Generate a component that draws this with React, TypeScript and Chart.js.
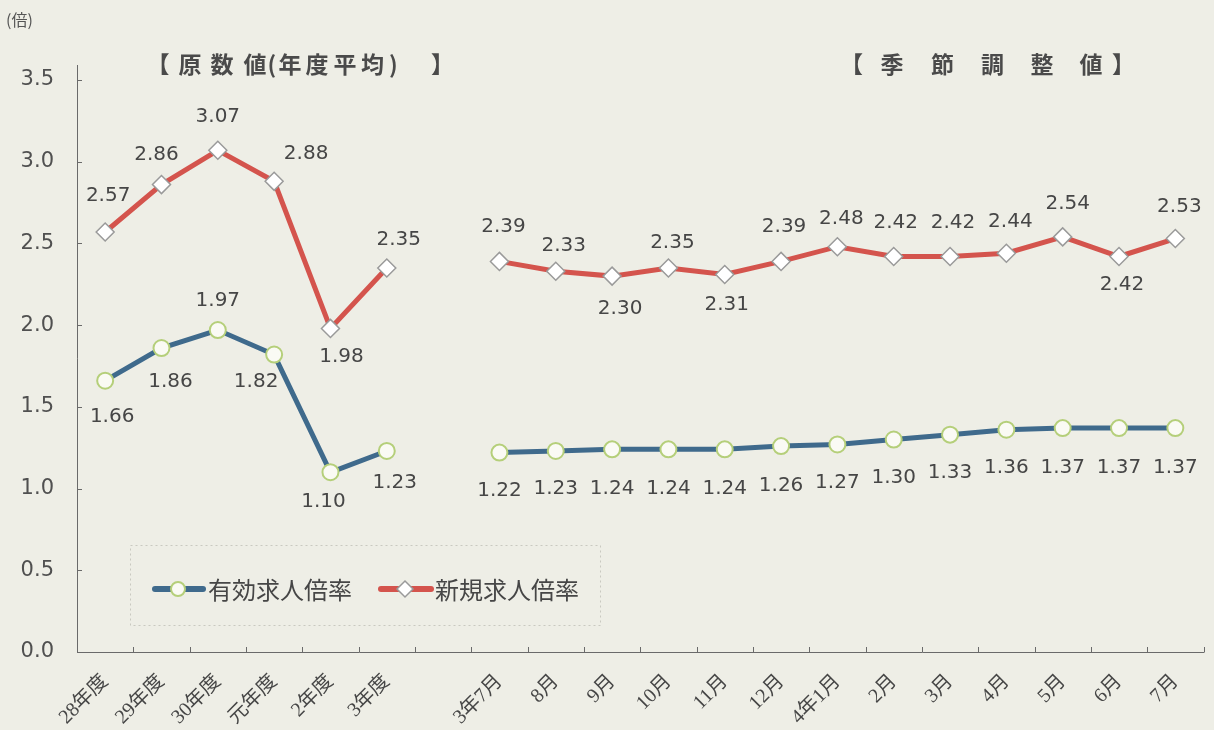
import React, { useEffect, useRef } from 'react';
import { Chart, registerables } from 'chart.js';

Chart.register(...registerables);

// ---- data ----
const categories = [
  '28年度', '29年度', '30年度', '元年度', '2年度', '3年度', '',
  '3年7月', '8月', '9月', '10月', '11月', '12月', '4年1月', '2月', '3月', '4月', '5月', '6月', '7月',
];
const yukoRatio: (number | null)[] = [
  1.66, 1.86, 1.97, 1.82, 1.10, 1.23, null,
  1.22, 1.23, 1.24, 1.24, 1.24, 1.26, 1.27, 1.30, 1.33, 1.36, 1.37, 1.37, 1.37,
];
const shinkiRatio: (number | null)[] = [
  2.57, 2.86, 3.07, 2.88, 1.98, 2.35, null,
  2.39, 2.33, 2.30, 2.35, 2.31, 2.39, 2.48, 2.42, 2.42, 2.44, 2.54, 2.42, 2.53,
];
const yTickValues = [0, 0.5, 1.0, 1.5, 2.0, 2.5, 3.0, 3.5];
const seriesNames = ['有効求人倍率', '新規求人倍率'];
const unitLabel = '(倍)';
const title1Chars = ['【', '原', '数', '値', '(', '年', '度', '平', '均', ')', '】'];
const title2Chars = ['【', '季', '節', '調', '整', '値', '】'];

// ---- styling (label offsets relative to the point, in px) ----
const yukoLabelOffsets: ([number, number] | null)[] = [
  [7, 36], [9, 34], [0, -29], [-18, 27], [-7, 30], [8, 32], null,
  [0, 38], [0, 38], [0, 39], [0, 39], [0, 39], [0, 40], [0, 38], [0, 38], [0, 38], [0, 38], [0, 40], [0, 40], [0, 40],
];
const shinkiLabelOffsets: ([number, number] | null)[] = [
  [3, -36], [-5, -30], [0, -33], [32, -28], [11, 28], [12, -28], null,
  [4, -35], [8, -25], [8, 33], [4, -25], [2, 30], [3, -35], [4, -28], [2, -34], [3, -34], [4, -31], [5, -33], [3, 28], [4, -32],
];
const title1Centers = [165.5, 190, 222, 255, 272, 290, 317, 345, 372, 393, 435];
const title2Centers = [859, 892, 942, 992, 1042, 1091, 1116];

const BG = '#eeeee6';
const TEXT = '#464646';
const BLUE = '#3f6a8c';
const RED = '#d4544d';
const GREEN = '#b5cf7a';
const NUM_FONT = '"DejaVu Sans", "Liberation Sans", sans-serif';
const JP_FONT = '"Noto Sans CJK JP", "Noto Sans", sans-serif';

function drawCentered(ctx: CanvasRenderingContext2D, ch: string, cx: number, cy: number) {
  const m = ctx.measureText(ch);
  const x = cx - (m.actualBoundingBoxRight - m.actualBoundingBoxLeft) / 2;
  ctx.fillText(ch, x, cy);
}

function drawDiamond(ctx: CanvasRenderingContext2D, x: number, y: number, r: number) {
  ctx.beginPath();
  ctx.moveTo(x, y - r);
  ctx.lineTo(x + r, y);
  ctx.lineTo(x, y + r);
  ctx.lineTo(x - r, y);
  ctx.closePath();
  ctx.fillStyle = '#ffffff';
  ctx.fill();
  ctx.lineWidth = 1.5;
  ctx.strokeStyle = '#9a9a9a';
  ctx.stroke();
}

const decorPlugin = {
  id: 'decor',
  beforeDraw(chart: any) {
    const ctx: CanvasRenderingContext2D = chart.ctx;
    ctx.save();
    ctx.fillStyle = BG;
    ctx.fillRect(0, 0, chart.width, chart.height);
    ctx.restore();
  },
  beforeDatasetsDraw(chart: any) {
    const ctx: CanvasRenderingContext2D = chart.ctx;
    const xs = chart.scales.x;
    const ys = chart.scales.y;
    const area = chart.chartArea;
    ctx.save();
    // legend box (dotted)
    ctx.strokeStyle = '#c9c9c0';
    ctx.lineWidth = 1;
    ctx.setLineDash([2, 3]);
    ctx.strokeRect(130.5, 545.5, 470, 80);
    ctx.setLineDash([]);

    // axes
    ctx.strokeStyle = '#6a6a6a';
    ctx.lineWidth = 1;
    ctx.beginPath();
    ctx.moveTo(area.left + 0.5, 65);
    ctx.lineTo(area.left + 0.5, area.bottom + 0.5);
    ctx.lineTo(area.right + 1, area.bottom + 0.5);
    ctx.stroke();
    // y ticks (inside)
    ctx.beginPath();
    yTickValues.forEach((v) => {
      const y = Math.round(ys.getPixelForValue(v)) + 0.5;
      ctx.moveTo(area.left, y);
      ctx.lineTo(area.left + 5, y);
    });
    // x ticks at category boundaries (inside)
    const n = categories.length;
    for (let i = 0; i <= n; i++) {
      let x: number;
      if (i === 0) x = area.left;
      else if (i === n) x = area.right;
      else x = (xs.getPixelForValue(i - 1) + xs.getPixelForValue(i)) / 2;
      x = Math.round(x) + 0.5;
      ctx.moveTo(x, area.bottom);
      ctx.lineTo(x, area.bottom - 5);
    }
    ctx.stroke();
    ctx.restore();
  },
  afterDatasetsDraw(chart: any) {
    const ctx: CanvasRenderingContext2D = chart.ctx;
    ctx.save();
    ctx.fillStyle = TEXT;
    ctx.textAlign = 'center';
    ctx.textBaseline = 'middle';
    ctx.font = `20px ${NUM_FONT}`;
    const sets: [number, (number | null)[], ([number, number] | null)[]][] = [
      [0, yukoRatio, yukoLabelOffsets],
      [1, shinkiRatio, shinkiLabelOffsets],
    ];
    sets.forEach(([di, vals, offs]) => {
      const meta = chart.getDatasetMeta(di);
      meta.data.forEach((pt: any, i: number) => {
        const v = vals[i];
        const o = offs[i];
        if (v == null || !o) return;
        ctx.fillText(v.toFixed(2), pt.x + o[0], pt.y + o[1]);
      });
    });

    // unit label
    ctx.font = `16px ${JP_FONT}`;
    ctx.textAlign = 'left';
    ctx.fillStyle = '#555';
    ctx.fillText(unitLabel, 6, 20);

    // section titles
    ctx.font = `bold 23px ${JP_FONT}`;
    ctx.fillStyle = '#4a4a4a';
    ctx.textAlign = 'left';
    title1Chars.forEach((c, i) => drawCentered(ctx, c, title1Centers[i], 64));
    title2Chars.forEach((c, i) => drawCentered(ctx, c, title2Centers[i], 64));

    // legend
    const ly = 589;
    ctx.lineCap = 'round';
    ctx.lineWidth = 6;
    ctx.strokeStyle = BLUE;
    ctx.beginPath();
    ctx.moveTo(155, ly);
    ctx.lineTo(203, ly);
    ctx.stroke();
    ctx.beginPath();
    ctx.arc(178, ly, 7, 0, Math.PI * 2);
    ctx.fillStyle = '#fafaf4';
    ctx.fill();
    ctx.lineWidth = 2;
    ctx.strokeStyle = GREEN;
    ctx.stroke();

    ctx.lineWidth = 6;
    ctx.strokeStyle = RED;
    ctx.beginPath();
    ctx.moveTo(381, ly);
    ctx.lineTo(431, ly);
    ctx.stroke();
    drawDiamond(ctx, 405, ly, 8);

    ctx.font = `24px ${JP_FONT}`;
    ctx.fillStyle = TEXT;
    ctx.textAlign = 'left';
    ctx.textBaseline = 'middle';
    ctx.fillText(seriesNames[0], 208, ly + 1);
    ctx.fillText(seriesNames[1], 435, ly + 1);
    ctx.restore();
  },
};

export default function App() {
  const canvasRef = useRef<HTMLCanvasElement | null>(null);

  useEffect(() => {
    const canvas = canvasRef.current;
    if (!canvas) return;
    const chart = new Chart(canvas, {
      type: 'line',
      data: {
        labels: categories,
        datasets: [
          {
            label: seriesNames[0],
            data: yukoRatio,
            borderColor: BLUE,
            borderWidth: 5,
            tension: 0,
            spanGaps: false,
            pointStyle: 'circle',
            pointRadius: 8,
            pointBackgroundColor: '#fafaf4',
            pointBorderColor: GREEN,
            pointBorderWidth: 2,
          },
          {
            label: seriesNames[1],
            data: shinkiRatio,
            borderColor: RED,
            borderWidth: 5,
            tension: 0,
            spanGaps: false,
            pointStyle: 'rectRot',
            pointRadius: 9,
            pointBackgroundColor: '#ffffff',
            pointBorderColor: '#9a9a9a',
            pointBorderWidth: 1.5,
          },
        ],
      },
      options: {
        responsive: false,
        animation: false,
        layout: { padding: { top: 80, right: 7, left: 0, bottom: 0 } },
        plugins: {
          legend: { display: false },
          tooltip: { enabled: false },
        },
        scales: {
          x: {
            offset: true,
            grid: { display: false, drawTicks: false },
            border: { display: false },
            ticks: {
              autoSkip: false,
              maxRotation: 45,
              minRotation: 45,
              padding: 18,
              color: TEXT,
              font: { family: '"Liberation Serif", "Noto Sans CJK JP", serif', size: 20 },
            },
            afterFit: (s: any) => {
              s.height = 78;
            },
          },
          y: {
            min: 0,
            max: 3.5,
            grid: { display: false, drawTicks: false },
            border: { display: false },
            ticks: {
              stepSize: 0.5,
              padding: 23,
              color: '#505050',
              font: { family: NUM_FONT, size: 21 },
              callback: (v: any) => Number(v).toFixed(1),
            },
            afterFit: (s: any) => {
              s.width = 77;
            },
          },
        },
      },
      plugins: [decorPlugin],
    });
    return () => chart.destroy();
  }, []);

  return (
    <div style={{ position: 'absolute', left: 0, top: 0, width: 1214, height: 730, background: BG }}>
      <canvas ref={canvasRef} width={1214} height={730} />
    </div>
  );
}
